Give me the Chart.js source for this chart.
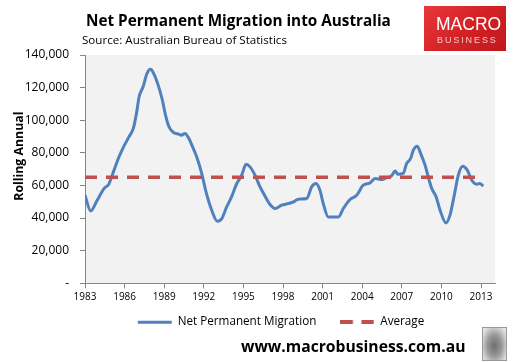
<!DOCTYPE html>
<html><head><meta charset="utf-8">
<script src="https://cdn.jsdelivr.net/npm/chart.js@4"></script>
<style>
html,body{margin:0;padding:0;background:#fff;}
#wrap{position:relative;width:517px;height:362px;overflow:hidden;font-family:"Open Sans",sans-serif;}
#c{position:absolute;left:0;top:0;}
.t{position:absolute;white-space:nowrap;line-height:1;color:#000;}
#title{left:86px;top:13px;font-size:15.3px;font-weight:bold;}
#sub{left:82px;top:34px;font-size:11.6px;}
#logo{position:absolute;left:424px;top:6px;width:82px;height:45px;background:linear-gradient(135deg,#e8383b 0%,#d42226 50%,#c0181c 100%);}
#m1{position:absolute;left:12px;top:10px;font-family:"Liberation Sans",Arial,sans-serif;font-size:17.5px;color:#fff;line-height:1;}
#m2{position:absolute;left:13px;top:30px;font-family:"Liberation Sans",Arial,sans-serif;font-size:9px;color:#f6c9c9;line-height:1;letter-spacing:1.9px;}
#url{left:241px;top:339px;font-size:15.7px;font-weight:bold;}
#wolf{position:absolute;left:482px;top:327px;width:23px;height:32px;border:1px solid #9a9a9a;background:radial-gradient(ellipse at 50% 55%,#6e6e6e 0%,#9a9a9a 45%,#d0d0d0 75%,#f0f0f0 100%);}
</style></head>
<body><div id="wrap">
<canvas id="c" width="517" height="362"></canvas>
<div class="t" id="title">Net Permanent Migration into Australia</div>
<div class="t" id="sub">Source: Australian Bureau of Statistics</div>
<div id="logo"><div id="m1">MACRO</div><div id="m2">BUSINESS</div></div>
<div class="t" id="url">www.macrobusiness.com.au</div>
<div id="wolf"></div>
</div>
<script>
// ---- data ----
const years = [1983.0,1983.43,1983.93,1984.44,1984.8,1985.2,1985.58,1985.95,1986.33,1986.66,1986.9,1987.1,1987.4,1987.7,1987.97,1988.2,1988.5,1988.86,1989.1,1989.36,1989.74,1990.1,1990.3,1990.58,1990.83,1991.2,1991.46,1991.84,1992.2,1992.6,1993.02,1993.36,1993.73,1994.1,1994.5,1994.87,1995.2,1995.5,1995.88,1996.26,1996.6,1997.0,1997.4,1997.9,1998.4,1998.8,1999.16,1999.8,2000.17,2000.5,2000.8,2001.05,2001.43,2001.8,2002.2,2002.57,2003.08,2003.58,2004.08,2004.6,2004.97,2005.5,2005.86,2006.2,2006.5,2006.7,2007.1,2007.37,2007.67,2007.87,2008.17,2008.43,2008.76,2009.0,2009.27,2009.6,2009.9,2010.35,2010.65,2010.95,2011.28,2011.6,2011.96,2012.3,2012.67,2012.9,2013.17];
const migration = [54000,44400,51000,58100,60800,69400,77600,84100,89800,95000,104200,114400,120500,128700,131200,128700,122600,112400,103100,96000,92300,91500,90800,91900,89400,82700,77600,67400,55100,44800,38100,39700,46800,53000,61200,66300,73000,71400,66300,59100,54000,48500,45900,47900,48900,49900,51600,52000,59100,61200,57100,48900,40700,40700,40700,45900,51400,54000,60200,61600,64300,63700,64900,65700,68800,66900,67400,73500,76600,81700,84100,79600,72500,65300,58100,53000,44800,37000,41800,53000,66300,71800,69400,63200,60800,61200,59600];
const averageValue = 65000;
const xTickYears = [1983,1986,1989,1992,1995,1998,2001,2004,2007,2010,2013];
const yTickValues = [0,20000,40000,60000,80000,100000,120000,140000];
const seriesNames = ['Net Permanent Migration','Average'];

const migrationPoints = years.map((y,i)=>({x:y,y:migration[i]}));
const averagePoints = [{x:years[0],y:averageValue},{x:years[years.length-1],y:averageValue}];

// dashed legend swatch for the Average series
const dashSwatch = document.createElement('canvas');
dashSwatch.width = 34; dashSwatch.height = 4;
(function(){
  const g = dashSwatch.getContext('2d');
  g.fillStyle = '#c0504d';
  g.fillRect(0,0,12.5,4);
  g.fillRect(21,0,12.5,4);
})();

const plotBg = {
  id:'plotBg',
  beforeDraw(chart){
    const {ctx,chartArea:a} = chart;
    ctx.save(); ctx.fillStyle='#f2f2f2';
    ctx.fillRect(a.left,a.top,a.right-a.left,a.bottom-a.top);
    ctx.restore();
  }
};
// nudge the legend box and the y-axis title into the reference's spot
const layoutNudge = {
  id:'layoutNudge',
  afterLayout(chart){
    const l = chart.legend;
    if(l){ l.top -= 12; l.bottom -= 12; l.left -= 9; l.right -= 9; }
    const y = chart.scales.y;
    if(y && !y._titleWrapped){
      const orig = y.drawTitle;
      y.drawTitle = function(){
        const b = this.bottom; this.bottom = b - 26;
        orig.call(this);
        this.bottom = b;
      };
      y._titleWrapped = true;
    }
  }
};

new Chart(document.getElementById('c'),{
  type:'line',
  data:{datasets:[
    {label:seriesNames[0],data:migrationPoints,borderColor:'#4f81bd',backgroundColor:'#4f81bd',borderWidth:3,pointRadius:0,pointStyle:'line',tension:0.3,cubicInterpolationMode:'monotone',order:2},
    {label:seriesNames[1],data:averagePoints,borderColor:'#c0504d',backgroundColor:'#c0504d',borderWidth:3.5,borderDash:[12,9],pointRadius:0,pointStyle:dashSwatch,order:1}
  ]},
  options:{
    responsive:false,animation:false,
    layout:{padding:{top:55,right:22,bottom:12,left:0}},
    plugins:{
      tooltip:{enabled:false},
      legend:{position:'bottom',fullSize:false,
        labels:{usePointStyle:true,pointStyleWidth:34,padding:24,color:'#000',
          font:{family:'"Open Sans"',size:11.7},
          sort:(a,b)=>a.datasetIndex-b.datasetIndex}}
    },
    scales:{
      x:{type:'linear',min:1983,max:2014.06,
        afterBuildTicks(s){s.ticks = xTickYears.map(v=>({value:v}));},
        afterFit(s){s.height=21;},
        ticks:{autoSkip:false,maxRotation:0,padding:3,color:'#000',font:{family:'"Open Sans"',size:10},callback:v=>String(v)},
        grid:{drawOnChartArea:false,drawTicks:true,tickLength:5,color:'#868686'},
        border:{display:true,color:'#868686'}
      },
      y:{min:0,max:140000,
        afterBuildTicks(s){s.ticks = yTickValues.map(v=>({value:v}));},
        afterFit(s){s.width=85;},
        ticks:{padding:11,color:'#000',font:{family:'"Open Sans"',size:12},callback:v=>v===0?'-':v.toLocaleString('en-US')},
        grid:{drawOnChartArea:false,drawTicks:true,tickLength:5,color:'#868686'},
        border:{display:true,color:'#868686'},
        title:{display:true,text:'Rolling Annual',color:'#000',font:{family:'"Open Sans"',size:12.3,weight:'bold'},padding:{top:12,bottom:0}}
      }
    }
  },
  plugins:[plotBg,layoutNudge]
});
</script>
</body></html>
